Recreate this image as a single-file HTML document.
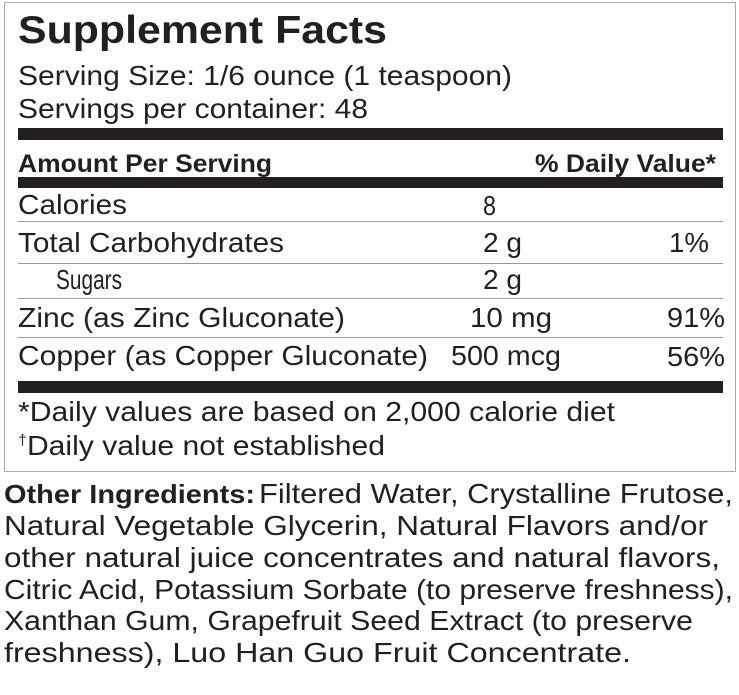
<!DOCTYPE html>
<html><head><meta charset="utf-8"><style>
html,body{margin:0;padding:0;background:#fff;}
svg{display:block;}
text{font-family:"Liberation Sans",Arial,sans-serif;fill:#231f20;}
.b{font-weight:bold;}
</style></head><body>
<svg width="739" height="695" viewBox="0 0 739 695" xmlns="http://www.w3.org/2000/svg">
<rect x="4.5" y="2.5" width="731" height="469" fill="none" stroke="#aaa" stroke-width="1"/>
<text class="b" x="18" y="43" font-size="39" textLength="369" lengthAdjust="spacingAndGlyphs">Supplement Facts</text>
<text x="18" y="85" font-size="28" textLength="494" lengthAdjust="spacingAndGlyphs">Serving Size: 1/6 ounce (1 teaspoon)</text>
<text x="18" y="118" font-size="28" textLength="350" lengthAdjust="spacingAndGlyphs">Servings per container: 48</text>
<rect x="18" y="128" width="705" height="12" fill="#231f20"/>
<text class="b" x="18" y="172" font-size="25" textLength="254" lengthAdjust="spacingAndGlyphs">Amount Per Serving</text>
<text class="b" x="535" y="172" font-size="25" textLength="181" lengthAdjust="spacingAndGlyphs">% Daily Value*</text>
<rect x="18" y="177" width="705" height="11" fill="#231f20"/>
<text x="18" y="214" font-size="28" textLength="109" lengthAdjust="spacingAndGlyphs">Calories</text>
<text x="483" y="215" font-size="28" textLength="13" lengthAdjust="spacingAndGlyphs">8</text>
<rect x="18" y="221" width="705" height="1" fill="#999"/>
<text x="18" y="252" font-size="28" textLength="266" lengthAdjust="spacingAndGlyphs">Total Carbohydrates</text>
<text x="483" y="252" font-size="28" textLength="39" lengthAdjust="spacingAndGlyphs">2 g</text>
<text x="669" y="252" font-size="28" textLength="40" lengthAdjust="spacingAndGlyphs">1%</text>
<rect x="18" y="263" width="705" height="1" fill="#999"/>
<text x="56" y="289" font-size="28" textLength="66" lengthAdjust="spacingAndGlyphs">Sugars</text>
<text x="483" y="289" font-size="28" textLength="39" lengthAdjust="spacingAndGlyphs">2 g</text>
<rect x="18" y="298" width="705" height="1" fill="#999"/>
<text x="18" y="327" font-size="28" textLength="327" lengthAdjust="spacingAndGlyphs">Zinc (as Zinc Gluconate)</text>
<text x="470" y="327" font-size="28" textLength="82" lengthAdjust="spacingAndGlyphs">10 mg</text>
<text x="667" y="327" font-size="28" textLength="58" lengthAdjust="spacingAndGlyphs">91%</text>
<rect x="18" y="337" width="705" height="1" fill="#999"/>
<text x="18" y="365" font-size="28" textLength="410" lengthAdjust="spacingAndGlyphs">Copper (as Copper Gluconate)</text>
<text x="451" y="365" font-size="28" textLength="110" lengthAdjust="spacingAndGlyphs">500 mcg</text>
<text x="667" y="366" font-size="28" textLength="58" lengthAdjust="spacingAndGlyphs">56%</text>
<rect x="18" y="381" width="705" height="12" fill="#231f20"/>
<text x="18" y="421" font-size="28" textLength="597" lengthAdjust="spacingAndGlyphs">*Daily values are based on 2,000 calorie diet</text>
<text x="18" y="455" font-size="28" textLength="367" lengthAdjust="spacingAndGlyphs"><tspan font-size="15" dy="-10">†</tspan><tspan dy="10">Daily value not established</tspan></text>
<text class="b" x="4" y="503" font-size="26" textLength="251" lengthAdjust="spacingAndGlyphs">Other Ingredients:</text>
<text x="259" y="503" font-size="28" textLength="474" lengthAdjust="spacingAndGlyphs">Filtered  Water, Crystalline Frutose,</text>
<text x="4" y="535" font-size="28" textLength="704" lengthAdjust="spacingAndGlyphs">Natural Vegetable Glycerin, Natural Flavors and/or</text>
<text x="4" y="567" font-size="28" textLength="716" lengthAdjust="spacingAndGlyphs">other natural juice concentrates and natural flavors,</text>
<text x="4" y="599" font-size="28" textLength="729" lengthAdjust="spacingAndGlyphs">Citric Acid, Potassium Sorbate (to preserve freshness),</text>
<text x="4" y="630" font-size="28" textLength="689" lengthAdjust="spacingAndGlyphs">Xanthan Gum, Grapefruit Seed Extract (to preserve</text>
<text x="4" y="662" font-size="28" textLength="627" lengthAdjust="spacingAndGlyphs">freshness), Luo Han Guo Fruit Concentrate.</text>
</svg>
</body></html>
